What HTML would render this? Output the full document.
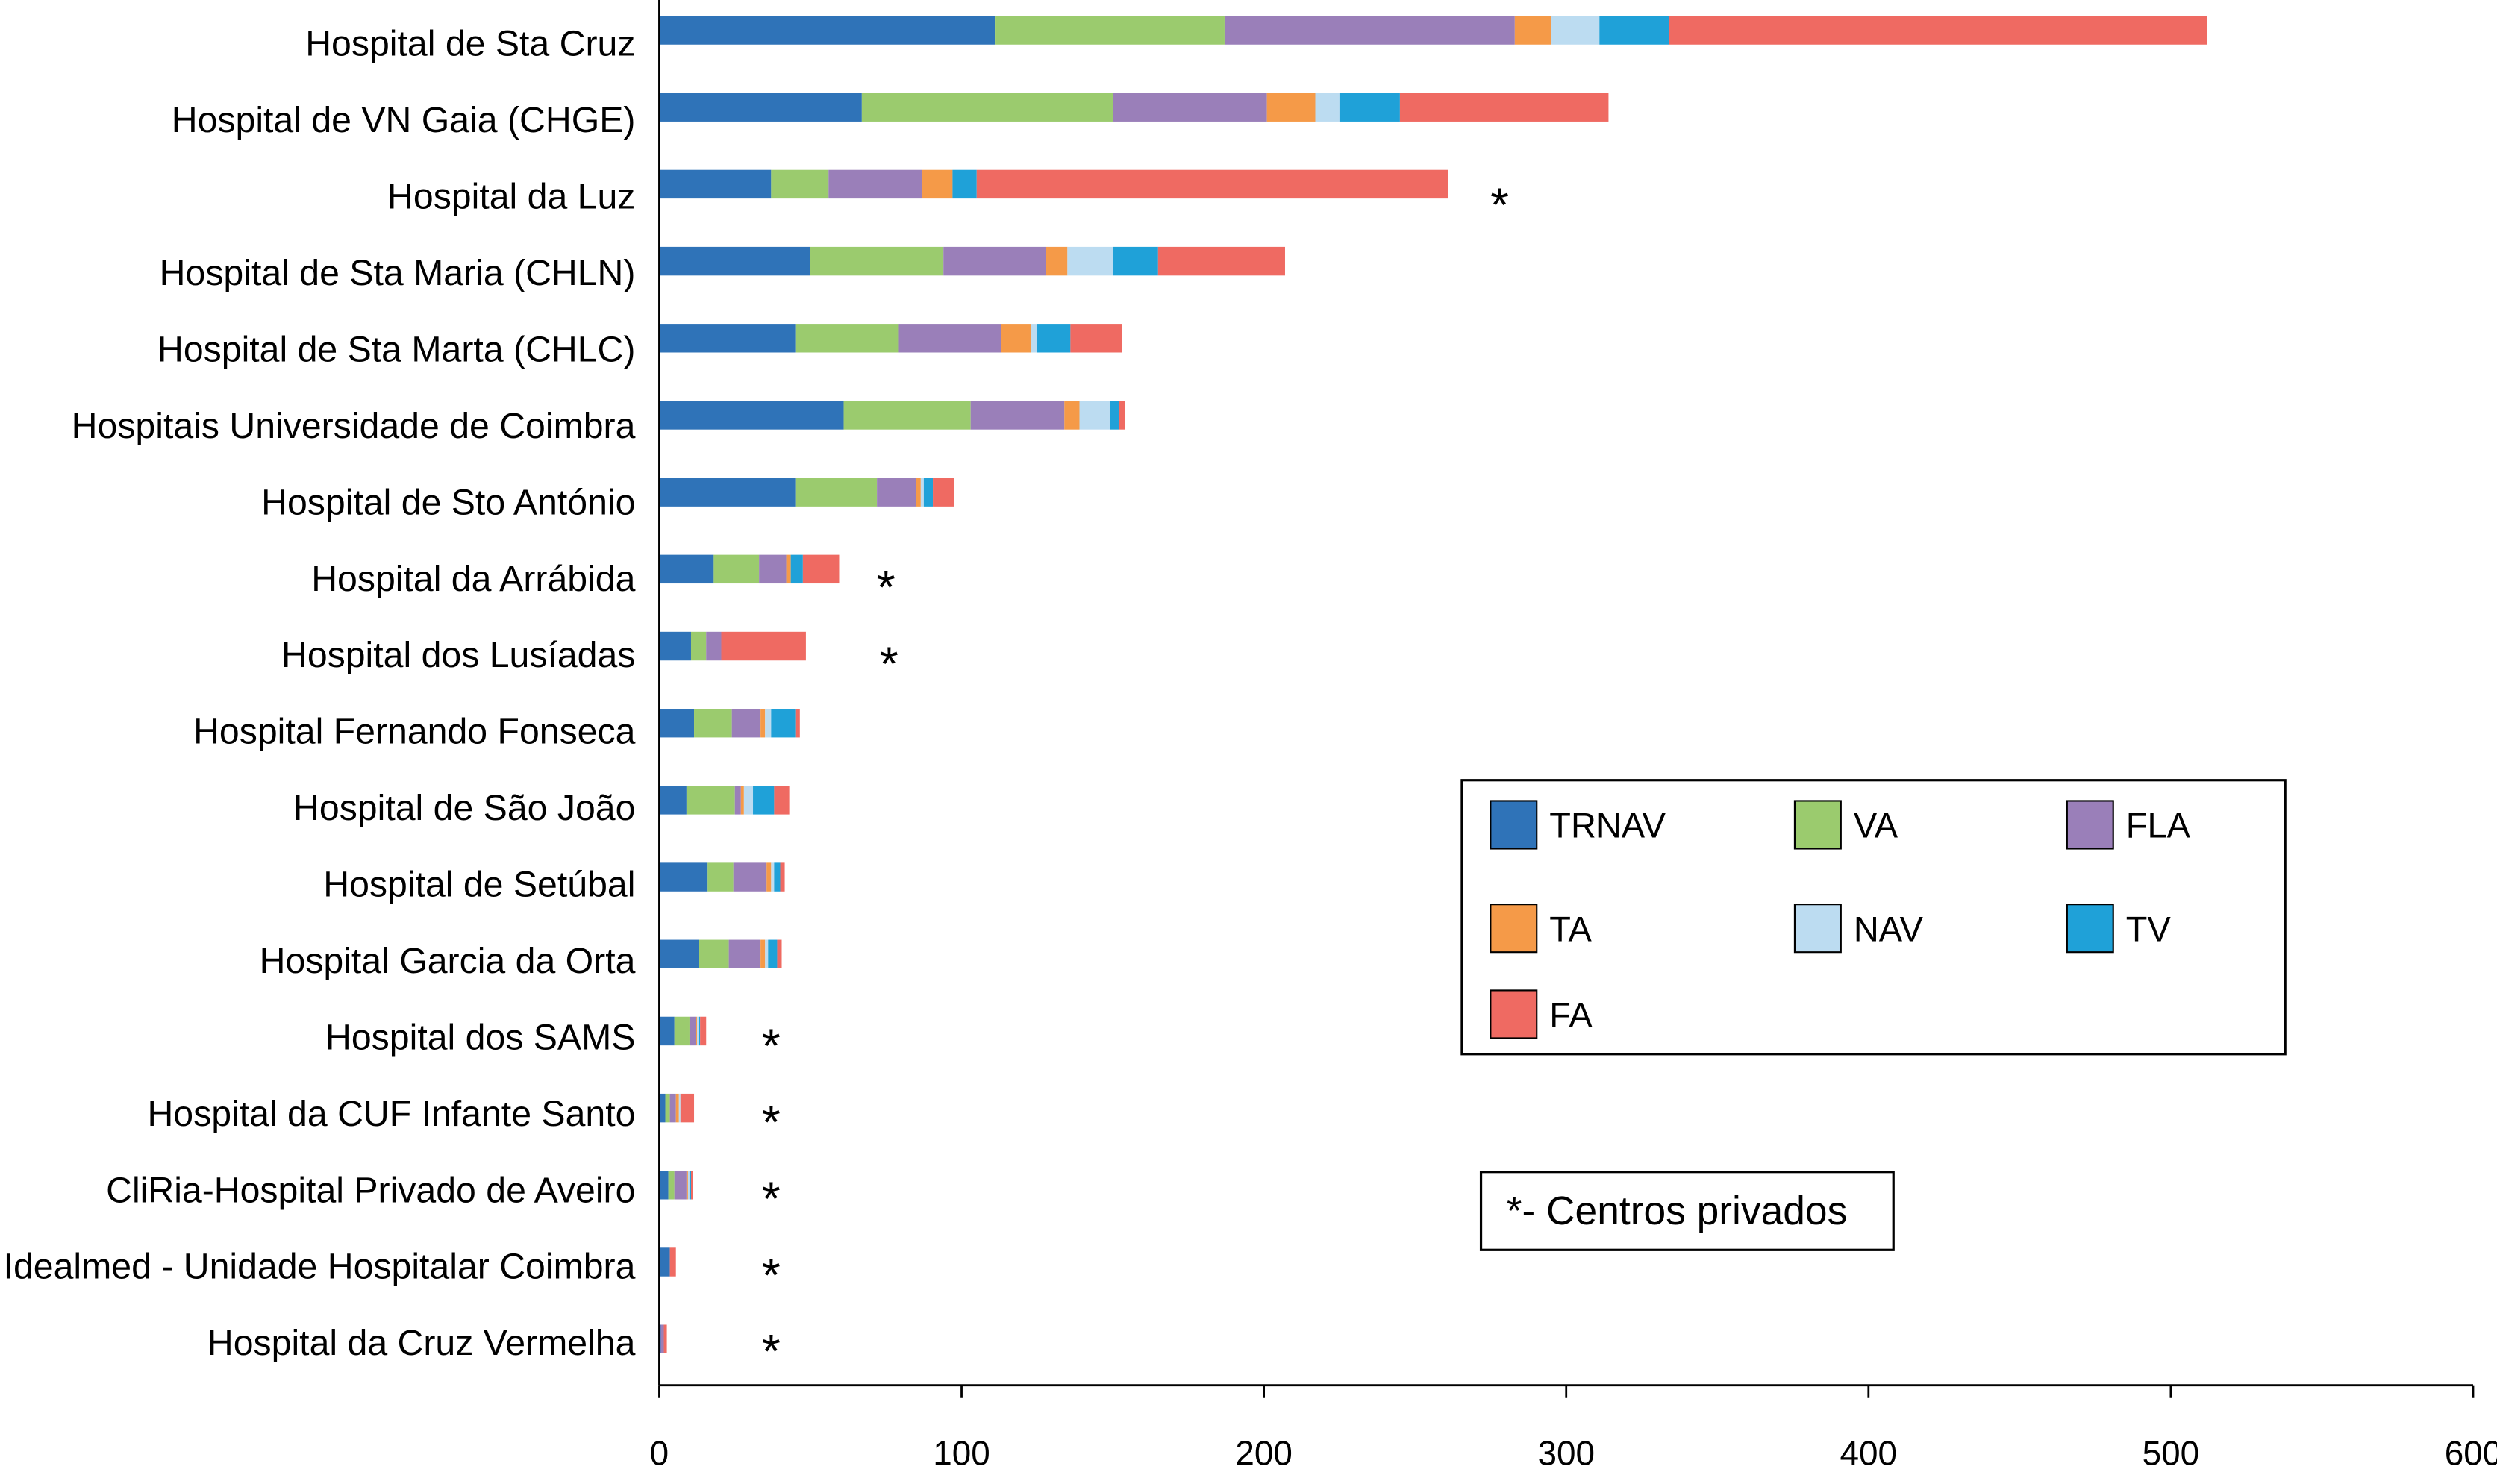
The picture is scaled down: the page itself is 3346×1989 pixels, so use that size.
<!DOCTYPE html>
<html><head><meta charset="utf-8"><style>
html,body{margin:0;padding:0;background:#fff;}
svg{display:block;font-family:"Liberation Sans",Arial,sans-serif;}
</style></head><body>
<svg id="chart" width="3346" height="1989" viewBox="0 0 1568 932" preserveAspectRatio="none" xmlns="http://www.w3.org/2000/svg">
<g id="bars"></g>
<g id="axes"></g>
<g>
<rect x="918" y="490" width="517" height="172" fill="#fff" stroke="#000" stroke-width="1.5"/>
<g id="legend-items"></g>
</g>
<g>
<rect x="930" y="736" width="259" height="49" fill="#fff" stroke="#000" stroke-width="1.5"/>
<text x="946" y="769" font-size="25">*- Centros privados</text>
</g>
</svg>
<script>
const categories = ["Hospital de Sta Cruz","Hospital de VN Gaia (CHGE)","Hospital da Luz","Hospital de Sta Maria (CHLN)","Hospital de Sta Marta (CHLC)","Hospitais Universidade de Coimbra","Hospital de Sto António","Hospital da Arrábida","Hospital dos Lusíadas","Hospital Fernando Fonseca","Hospital de São João","Hospital de Setúbal","Hospital Garcia da Orta","Hospital dos SAMS","Hospital da CUF Infante Santo","CliRia-Hospital Privado de Aveiro","Idealmed - Unidade Hospitalar Coimbra","Hospital da Cruz Vermelha"];
const seriesNames = ["TRNAV","VA","FLA","TA","NAV","TV","FA"];
const TRNAV = [111,67,37,50,45,61,45,18,10.5,11.5,9,16,13,5,2,3,3.5,0.5];
const VA    = [76,83,19,44,34,42,27,15,5,12.5,16,8.5,10,5,1.5,2,0,0];
const FLA   = [96,51,31,34,34,31,13,9,5,9.5,2,11,10.5,2,2,4,0,1];
const TA    = [12,16,10,7,10,5,1.5,1.5,0,1.5,1,1.5,1.5,0.5,1,0.5,0,0];
const NAV   = [16,8,0,15,2,10,1,0,0,2,3,1,1,0.5,0.5,0.5,0,0];
const TV    = [23,20,8,15,11,3,3,4,0,8,7,2,3,0.5,0,0.5,0,0];
const FA    = [178,69,156,42,17,2,7,12,28,1.5,5,1.5,1.5,2,4.5,0.5,2,1];
const privateCenters = [false,false,true,false,false,false,false,true,true,false,false,false,false,true,true,true,true,true];
const asteriskX = [0,0,278,0,0,0,0,75,76,0,0,0,0,37,37,37,37,37];
const xTicks = [0,100,200,300,400,500,600];
const colors = ["#2f73b8","#9bcb6e","#9a7fb9","#f59a48","#bcdcf1","#1fa1d8","#ef6a62"];
const series = [TRNAV,VA,FLA,TA,NAV,TV,FA];

const NS="http://www.w3.org/2000/svg";
const x0=414, x1=1553, xMax=600;
const xs = v => x0 + v*(x1-x0)/xMax;
const rowY = i => 19 + i*48.35;
const labelY = i => 35 + i*48.0;
const barH = 18;
function mk(tag, attrs, parent){const e=document.createElementNS(NS,tag);for(const k in attrs)e.setAttribute(k,attrs[k]);parent.appendChild(e);return e;}
const bars=document.getElementById('bars');
categories.forEach((c,i)=>{
  let acc=0;
  const cy=rowY(i);
  series.forEach((s,j)=>{
    const v=s[i];
    if(v>0){
      const r=mk('rect',{x:xs(acc),y:cy-barH/2,width:xs(acc+v)-xs(acc),height:barH,fill:colors[j]},bars);
      
      
    }
    acc+=v;
  });
  const t=mk('text',{x:399,y:labelY(i),'text-anchor':'end','font-size':22.6},bars);
  t.textContent=c;
  
  
  if(privateCenters[i]){
    const a=mk('text',{x:xs(asteriskX[i]),y:labelY(i)+8,'text-anchor':'middle','font-size':30},bars);
    a.textContent='*';
    
    
  }
});
const axes=document.getElementById('axes');
const ax=mk('line',{x1:x0,y1:870,x2:x1,y2:870,stroke:'#000','stroke-width':1.3},axes);


const ay=mk('line',{x1:x0,y1:0,x2:x0,y2:870,stroke:'#000','stroke-width':1.3},axes);


xTicks.forEach(t=>{
  const l=mk('line',{x1:xs(t),y1:870,x2:xs(t),y2:878,stroke:'#000','stroke-width':1.3},axes);
  
  
  const tx=mk('text',{x:xs(t),y:920,'text-anchor':'middle','font-size':21.5},axes);
  tx.textContent=t;
  
  
});
const lg=document.getElementById('legend-items');
const lx=[936,1127,1298], ly=[503,568,622];
seriesNames.forEach((n,j)=>{
  const cx=lx[j%3], cy=ly[Math.floor(j/3)];
  const r=mk('rect',{x:cx,y:cy,width:29,height:30,fill:colors[j],stroke:'#000','stroke-width':1},lg);
  
  
  const t=mk('text',{x:cx+37,y:cy+23,'font-size':22},lg);
  t.textContent=n;
  
  
});
</script>
</body></html>
